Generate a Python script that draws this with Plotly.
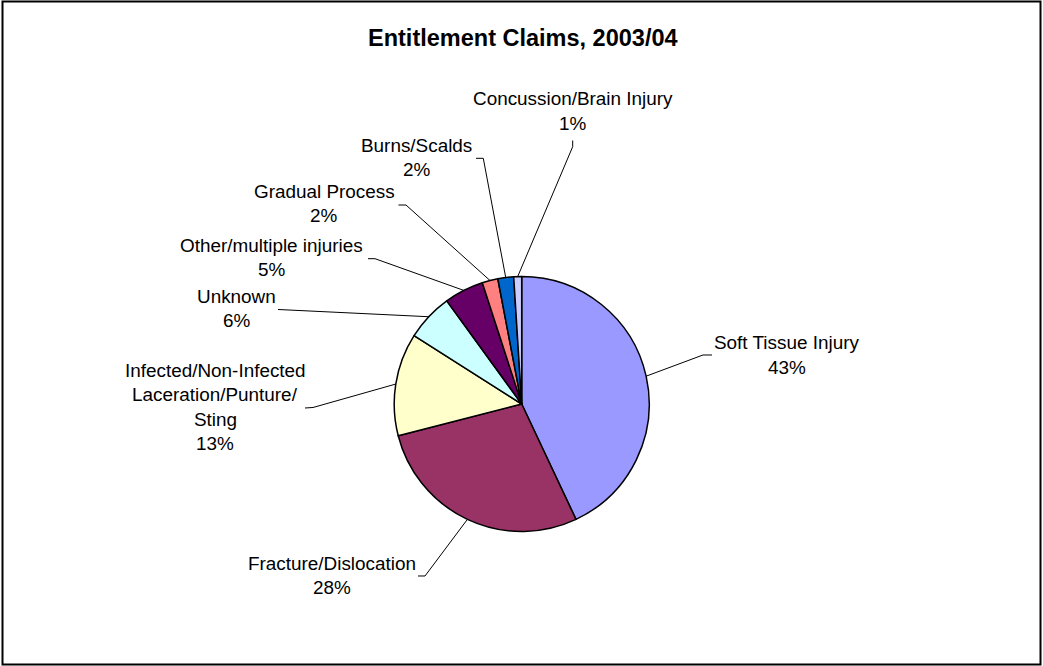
import math
import plotly.graph_objects as go

# ---- data ----
categories = [
    "Soft Tissue Injury",
    "Fracture/Dislocation",
    "Infected/Non-Infected<br>Laceration/Punture/<br>Sting",
    "Unknown",
    "Other/multiple injuries",
    "Gradual Process",
    "Burns/Scalds",
    "Concussion/Brain Injury",
]
values = [43, 28, 13, 6, 5, 2, 2, 1]
colors = ["#9999FF", "#993366", "#FFFFCC", "#CCFFFF", "#660066", "#FF8080", "#0066CC", "#CCCCFF"]

# ---- layout constants (pixels) ----
W, H = 1043, 666
CX, CY, R = 521.7, 404.0, 127.5
FONT = "Liberation Sans, Arial, sans-serif"
FS = 18.9
LINE_H = 24.5

# label text centres (first line) and leader-line bend points, in pixels
label_pos = [(786.5, 342.5), (331.5, 563), (215, 370), (236.5, 296),
             (271.5, 245), (324, 191), (416.5, 145), (573, 98.5)]
leader_pts = [
    [(703, 355), (712, 355)],
    [(425, 576), (418, 576)],
    [(313, 407.5), (305, 408)],
    [(278, 309.5)],
    [(375, 258.7), (368, 258.7)],
    [(406, 205), (398.5, 205)],
    [(483.3, 158.3), (476, 158.3)],
    [(572.7, 146.7), (572.7, 140.5)],
]


def px(x):
    return x / W


def py(y):
    return 1 - y / H


fig = go.Figure()
fig.add_trace(go.Pie(
    labels=[c.replace("<br>", " ") for c in categories],
    values=values,
    sort=False,
    direction="clockwise",
    rotation=0,
    marker=dict(colors=colors, line=dict(color="black", width=1.5)),
    textinfo="none",
    hoverinfo="label+percent",
    showlegend=False,
    domain=dict(x=[px(CX - R), px(CX + R)], y=[py(CY + R), py(CY - R)]),
))

total = sum(values)
shapes = []
annotations = []
cum = 0
for i, v in enumerate(values):
    mid = (cum + v / 2) / total * 2 * math.pi
    cum += v
    ex = CX + R * math.sin(mid)
    ey = CY - R * math.cos(mid)
    pts = [(ex, ey)] + leader_pts[i]
    path = "M " + " L ".join(f"{px(x):.5f},{py(y):.5f}" for x, y in pts)
    shapes.append(dict(type="path", path=path, xref="paper", yref="paper",
                       line=dict(color="black", width=1)))
    pct = f"{round(v / total * 100)}%"
    lines = categories[i].split("<br>") + [pct]
    lx, ly = label_pos[i]
    for j, t in enumerate(lines):
        annotations.append(dict(
            text=t, x=px(lx), y=py(ly + j * LINE_H), xref="paper", yref="paper",
            xanchor="center", yanchor="middle", showarrow=False,
            font=dict(family=FONT, size=FS, color="black"),
        ))

# title
annotations.append(dict(
    text="<b>Entitlement Claims, 2003/04</b>", x=px(523), y=py(38),
    xref="paper", yref="paper", xanchor="center", yanchor="middle", showarrow=False,
    font=dict(family=FONT, size=23.5, color="black"),
))

# outer frame
shapes.append(dict(type="rect", xref="paper", yref="paper",
                   x0=px(2.5), x1=px(1040.5), y0=py(664.5), y1=py(1.5),
                   line=dict(color="black", width=2)))

fig.update_layout(
    width=W, height=H,
    margin=dict(l=0, r=0, t=0, b=0),
    paper_bgcolor="white", plot_bgcolor="white",
    shapes=shapes, annotations=annotations,
    font=dict(family=FONT),
)

fig.write_html("out.html", config={"displayModeBar": False},
               post_script="document.body.style.margin='0';document.body.style.overflow='hidden';")
